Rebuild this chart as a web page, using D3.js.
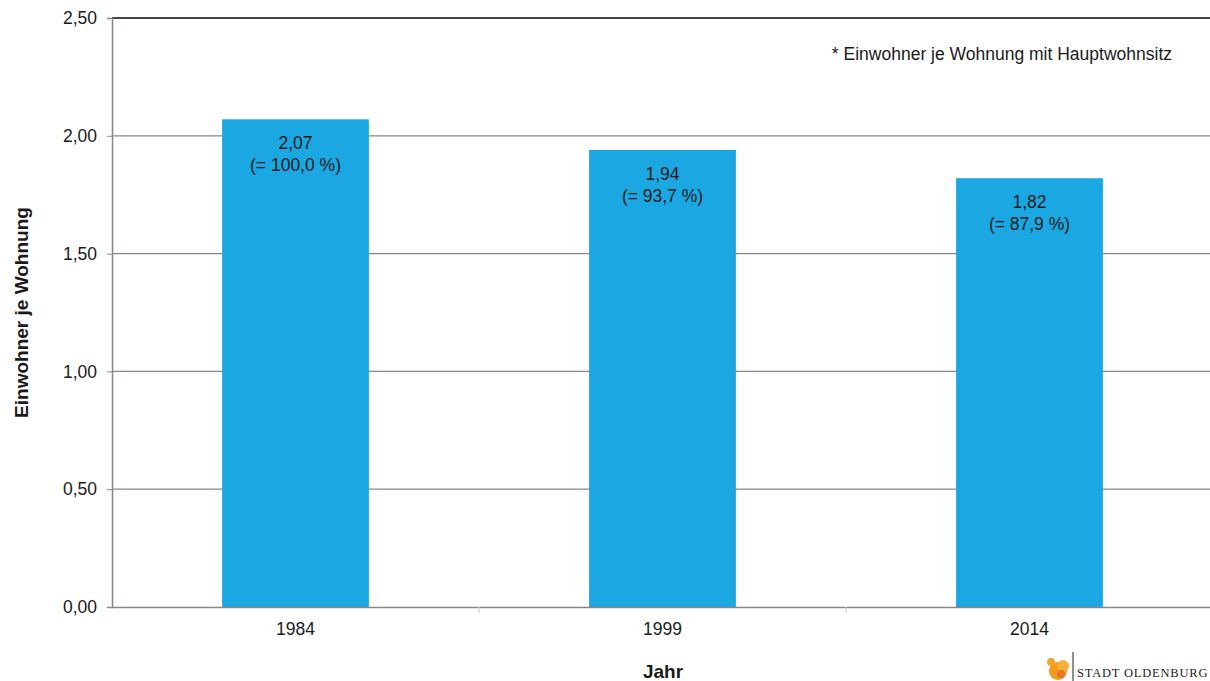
<!DOCTYPE html>
<html>
<head>
<meta charset="utf-8">
<script src="https://cdn.jsdelivr.net/npm/d3@7"></script>
<style>
    body { margin: 0; background: #fff; }
    svg { display: block; font-family: "Liberation Sans", Arial, sans-serif; }
</style>
</head>
<body>
<div id="chart"></div>
<script>
// data
let years = ["1984", "1999", "2014"];
let values = [2.07, 1.94, 1.82];
let percentLabels = ["(= 100,0 %)", "(= 93,7 %)", "(= 87,9 %)"];
let yTicks = [0, 0.5, 1, 1.5, 2, 2.5];

let width = 1210, height = 681;
let margin = {left: 112, right: -3, top: 18, bottom: 74};

let de = d3.formatLocale({decimal: ",", thousands: ".", grouping: [3], currency: ["", " €"]});
let fmt = de.format(".2f");

let svg = d3.select("#chart")
    .append("svg")
    .attr("width", width)
    .attr("height", height);

let x = d3.scaleBand()
    .domain(years)
    .range([margin.left, width - margin.right])
    .paddingInner(0.6)
    .paddingOuter(0.3);

let y = d3.scaleLinear()
    .domain([0, 2.5])
    .range([height - margin.bottom, margin.top]);

// gridlines
svg.append("g")
    .selectAll("line")
    .data(yTicks.filter(d => d > 0))
    .enter()
    .append("line")
    .attr("x1", margin.left)
    .attr("x2", width)
    .attr("y1", d => y(d))
    .attr("y2", d => y(d))
    .attr("stroke", d => d === 2.5 ? "#4a4545" : "#8c8585")
    .attr("stroke-width", d => d === 2.5 ? 2 : 1.3);

// bars
svg.selectAll("rect.bar")
    .data(years)
    .enter()
    .append("rect")
    .attr("class", "bar")
    .attr("x", d => x(d))
    .attr("y", (d, i) => y(values[i]))
    .attr("width", x.bandwidth())
    .attr("height", (d, i) => y(0) - y(values[i]))
    .attr("fill", "#1ba8e2");

// bar labels
let labels = svg.append("g")
    .attr("font-size", "17.5px")
    .attr("fill", "#1a1a1a")
    .attr("text-anchor", "middle");

labels.selectAll("text.val")
    .data(years)
    .enter()
    .append("text")
    .attr("x", d => x(d) + x.bandwidth() / 2)
    .attr("y", (d, i) => y(values[i]) + 30)
    .text((d, i) => fmt(values[i]));

labels.selectAll("text.pct")
    .data(years)
    .enter()
    .append("text")
    .attr("x", d => x(d) + x.bandwidth() / 2)
    .attr("y", (d, i) => y(values[i]) + 52)
    .text((d, i) => percentLabels[i]);

// y axis
let yAxis = d3.axisLeft(y)
    .tickValues(yTicks)
    .tickFormat(fmt)
    .tickSize(5)
    .tickPadding(10);

let gy = svg.append("g")
    .attr("transform", `translate(${margin.left},0)`)
    .call(yAxis);
gy.select(".domain").attr("stroke", "#8c8585").attr("stroke-width", 1.5);
gy.selectAll(".tick line").attr("stroke", "#8c8585");
gy.selectAll(".tick text")
    .attr("font-size", "17.5px")
    .attr("font-family", "Liberation Sans, Arial, sans-serif")
    .attr("fill", "#1a1a1a");

// x axis
let xAxis = d3.axisBottom(x).tickSize(0).tickPadding(16);
let gx = svg.append("g")
    .attr("transform", `translate(0,${y(0)})`)
    .call(xAxis);
gx.select(".domain").attr("stroke", "#8c8585").attr("stroke-width", 1.5);
gx.selectAll(".tick text")
    .attr("font-size", "17.5px")
    .attr("font-family", "Liberation Sans, Arial, sans-serif")
    .attr("fill", "#1a1a1a");

// x separators between categories
svg.append("g")
    .selectAll("line")
    .data(years.slice(1))
    .enter()
    .append("line")
    .attr("x1", d => x(d) - x.step() * x.paddingInner() / 2)
    .attr("x2", d => x(d) - x.step() * x.paddingInner() / 2)
    .attr("y1", y(0))
    .attr("y2", y(0) + 6)
    .attr("stroke", "#c8c2c2");

// axis titles
svg.append("text")
    .attr("transform", `translate(28, ${(y(0) + y(2.5)) / 2}) rotate(-90)`)
    .attr("text-anchor", "middle")
    .attr("font-size", "19px")
    .attr("font-weight", "bold")
    .attr("fill", "#1a1a1a")
    .text("Einwohner je Wohnung");

svg.append("text")
    .attr("x", 663)
    .attr("y", 678)
    .attr("text-anchor", "middle")
    .attr("font-size", "19px")
    .attr("font-weight", "bold")
    .attr("fill", "#1a1a1a")
    .text("Jahr");

// footnote
svg.append("text")
    .attr("x", 1172)
    .attr("y", 60)
    .attr("text-anchor", "end")
    .attr("font-size", "17.5px")
    .attr("fill", "#1a1a1a")
    .text("* Einwohner je Wohnung mit Hauptwohnsitz");

// logo
let logo = svg.append("g");
logo.append("circle").attr("cx", 1058).attr("cy", 671).attr("r", 9).attr("fill", "#f39a1f");
logo.append("circle").attr("cx", 1063).attr("cy", 666).attr("r", 6).attr("fill", "#f6b13a");
logo.append("circle").attr("cx", 1051).attr("cy", 662).attr("r", 4).attr("fill", "#f6a52a");
logo.append("circle").attr("cx", 1061).attr("cy", 674).attr("r", 4).attr("fill", "#e8742a");
logo.append("line")
    .attr("x1", 1073).attr("x2", 1073)
    .attr("y1", 652).attr("y2", 681)
    .attr("stroke", "#222").attr("stroke-width", 1);
logo.append("text")
    .attr("x", 1077)
    .attr("y", 677)
    .attr("font-family", "Liberation Serif, serif")
    .attr("font-size", "12.5px")
    .attr("letter-spacing", "0.8px")
    .attr("fill", "#222")
    .text("STADT OLDENBURG");
</script>
</body>
</html>
